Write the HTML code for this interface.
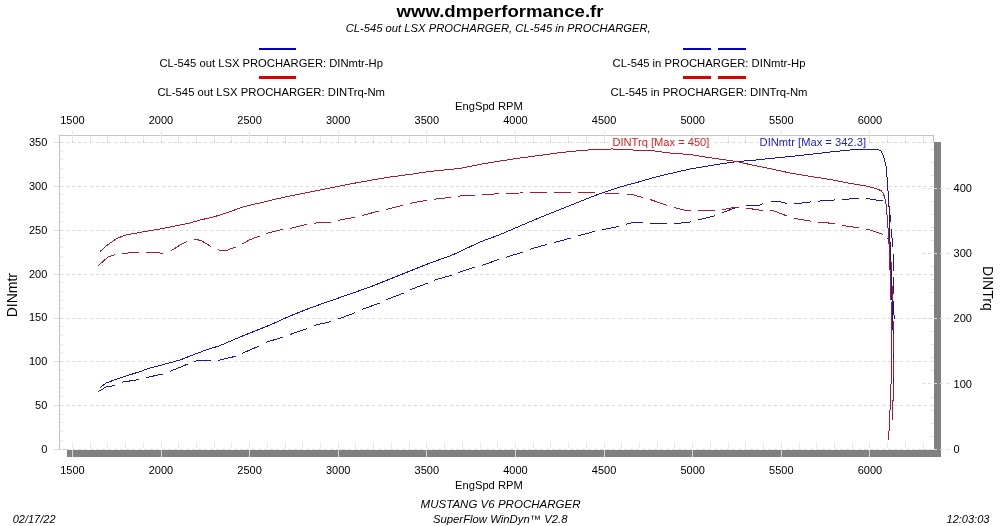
<!DOCTYPE html>
<html lang="fr"><head><meta charset="utf-8"><title>www.dmperformance.fr</title>
<style>
html,body{margin:0;padding:0;background:#fff;}
body{width:1000px;height:526px;overflow:hidden;}
svg{display:block;}
text{font-family:"Liberation Sans",Arial,Helvetica,sans-serif;fill:#000;}
.t{font-size:11px;}
.i{font-size:11px;font-style:italic;}
.ax{font-size:14px;}
.lbl{font-size:11.2px;}
</style></head><body>
<svg width="1000" height="526" viewBox="0 0 1000 526">
<rect x="0" y="0" width="1000" height="526" fill="#ffffff"/>
<text x="500" y="17" text-anchor="middle" textLength="207" lengthAdjust="spacingAndGlyphs" style="font-size:17px;font-weight:bold">www.dmperformance.fr</text>
<text class="i" x="498.2" y="31.8" text-anchor="middle" textLength="305" lengthAdjust="spacingAndGlyphs">CL-545 out LSX PROCHARGER, CL-545 in PROCHARGER,</text>
<g shape-rendering="crispEdges">
<rect x="259" y="48" width="37" height="2" fill="#0000cc"/>
<rect x="259" y="76" width="37" height="3" fill="#dd0000"/>
<rect x="683" y="48" width="28" height="2" fill="#0000cc"/><rect x="718" y="48" width="28" height="2" fill="#0000cc"/>
<rect x="683" y="76" width="28" height="3" fill="#dd0000"/><rect x="718" y="76" width="28" height="3" fill="#dd0000"/>
</g>
<text class="t" x="271.2" y="66.7" text-anchor="middle" textLength="223.5" lengthAdjust="spacingAndGlyphs">CL-545 out LSX PROCHARGER: DINmtr-Hp</text>
<text class="t" x="271.2" y="95.5" text-anchor="middle" textLength="227.5" lengthAdjust="spacingAndGlyphs">CL-545 out LSX PROCHARGER: DINTrq-Nm</text>
<text class="t" x="709" y="66.7" text-anchor="middle" textLength="193" lengthAdjust="spacingAndGlyphs">CL-545 in PROCHARGER: DINmtr-Hp</text>
<text class="t" x="709" y="95.5" text-anchor="middle" textLength="197" lengthAdjust="spacingAndGlyphs">CL-545 in PROCHARGER: DINTrq-Nm</text>
<text class="t" x="488.9" y="109.5" text-anchor="middle" textLength="67.6" lengthAdjust="spacingAndGlyphs">EngSpd RPM</text>
<text class="t" x="488.9" y="488.7" text-anchor="middle" textLength="67.6" lengthAdjust="spacingAndGlyphs">EngSpd RPM</text>
<text class="i" x="500.6" y="507.5" text-anchor="middle" textLength="160" lengthAdjust="spacingAndGlyphs">MUSTANG V6 PROCHARGER</text>
<text class="i" x="500.2" y="522.8" text-anchor="middle" textLength="134.5" lengthAdjust="spacingAndGlyphs">SuperFlow WinDyn™ V2.8</text>
<text class="i" x="12.7" y="522.7">02/17/22</text>
<text class="i" x="989.4" y="522.7" text-anchor="end">12:03:03</text>
<text class="ax" transform="translate(17.1 295.2) rotate(-90)" text-anchor="middle">DINmtr</text>
<text class="ax" transform="translate(983.4 288.4) rotate(90)" text-anchor="middle">DINTrq</text>
<text class="t" x="72.4" y="123.7" text-anchor="middle">1500</text>
<text class="t" x="72.4" y="474.1" text-anchor="middle">1500</text>
<text class="t" x="161.0" y="123.7" text-anchor="middle">2000</text>
<text class="t" x="161.0" y="474.1" text-anchor="middle">2000</text>
<text class="t" x="249.6" y="123.7" text-anchor="middle">2500</text>
<text class="t" x="249.6" y="474.1" text-anchor="middle">2500</text>
<text class="t" x="338.2" y="123.7" text-anchor="middle">3000</text>
<text class="t" x="338.2" y="474.1" text-anchor="middle">3000</text>
<text class="t" x="426.8" y="123.7" text-anchor="middle">3500</text>
<text class="t" x="426.8" y="474.1" text-anchor="middle">3500</text>
<text class="t" x="515.4" y="123.7" text-anchor="middle">4000</text>
<text class="t" x="515.4" y="474.1" text-anchor="middle">4000</text>
<text class="t" x="604.1" y="123.7" text-anchor="middle">4500</text>
<text class="t" x="604.1" y="474.1" text-anchor="middle">4500</text>
<text class="t" x="692.7" y="123.7" text-anchor="middle">5000</text>
<text class="t" x="692.7" y="474.1" text-anchor="middle">5000</text>
<text class="t" x="781.3" y="123.7" text-anchor="middle">5500</text>
<text class="t" x="781.3" y="474.1" text-anchor="middle">5500</text>
<text class="t" x="869.9" y="123.7" text-anchor="middle">6000</text>
<text class="t" x="869.9" y="474.1" text-anchor="middle">6000</text>
<text class="t" x="47.3" y="452.8" text-anchor="end">0</text>
<text class="t" x="47.3" y="409.0" text-anchor="end">50</text>
<text class="t" x="47.3" y="365.1" text-anchor="end">100</text>
<text class="t" x="47.3" y="321.3" text-anchor="end">150</text>
<text class="t" x="47.3" y="277.5" text-anchor="end">200</text>
<text class="t" x="47.3" y="233.6" text-anchor="end">250</text>
<text class="t" x="47.3" y="189.8" text-anchor="end">300</text>
<text class="t" x="47.3" y="146.0" text-anchor="end">350</text>
<text class="t" x="953.6" y="452.8">0</text>
<text class="t" x="953.6" y="387.6">100</text>
<text class="t" x="953.6" y="322.3">200</text>
<text class="t" x="953.6" y="257.1">300</text>
<text class="t" x="953.6" y="191.8">400</text>
<g shape-rendering="crispEdges" fill="none">
<rect x="934" y="142" width="7" height="315" fill="#808080"/>
<rect x="67" y="450" width="874" height="7" fill="#808080"/>
<path d="M59.5 449.5 V135.5 H934" stroke="#c4c4c4" stroke-width="1"/>
<path d="M933.5 135.5 V142" stroke="#c4c4c4" stroke-width="1"/>
<path d="M54 449.5 H67" stroke="#c4c4c4" stroke-width="1"/>
<path d="M54 449.5 H934" stroke="#dadada" stroke-width="1" stroke-dasharray="3 3"/>
<path d="M54 405.5 H934" stroke="#dadada" stroke-width="1" stroke-dasharray="3 3"/>
<path d="M54 361.5 H934" stroke="#dadada" stroke-width="1" stroke-dasharray="3 3"/>
<path d="M54 318.5 H934" stroke="#dadada" stroke-width="1" stroke-dasharray="3 3"/>
<path d="M54 274.5 H934" stroke="#dadada" stroke-width="1" stroke-dasharray="3 3"/>
<path d="M54 230.5 H934" stroke="#dadada" stroke-width="1" stroke-dasharray="3 3"/>
<path d="M54 186.5 H934" stroke="#dadada" stroke-width="1" stroke-dasharray="3 3"/>
<path d="M54 142.5 H934" stroke="#dadada" stroke-width="1" stroke-dasharray="3 3"/>
<path d="M54 449.5 H59 M54 405.5 H59 M54 361.5 H59 M54 318.5 H59 M54 274.5 H59 M54 230.5 H59 M54 186.5 H59 M54 142.5 H59" stroke="#dcdcdc" stroke-width="1"/>
<path d="M72.5 130 V142 M90.5 136 V142 M107.5 136 V142 M125.5 136 V142 M143.5 136 V142 M161.5 130 V142 M178.5 136 V142 M196.5 136 V142 M214.5 136 V142 M231.5 136 V142 M249.5 130 V142 M267.5 136 V142 M285.5 136 V142 M302.5 136 V142 M320.5 136 V142 M338.5 130 V142 M355.5 136 V142 M373.5 136 V142 M391.5 136 V142 M409.5 136 V142 M426.5 130 V142 M444.5 136 V142 M462.5 136 V142 M480.5 136 V142 M497.5 136 V142 M515.5 130 V142 M533.5 136 V142 M550.5 136 V142 M568.5 136 V142 M586.5 136 V142 M604.5 130 V142 M621.5 136 V142 M639.5 136 V142 M657.5 136 V142 M674.5 136 V142 M692.5 130 V142 M710.5 136 V142 M728.5 136 V142 M745.5 136 V142 M763.5 136 V142 M781.5 130 V142 M799.5 136 V142 M816.5 136 V142 M834.5 136 V142 M852.5 136 V142 M869.5 130 V142 M887.5 136 V142 M905.5 136 V142 M923.5 136 V142" stroke="#e9e9e9" stroke-width="1"/>
<path d="M72.5 141 V143 M90.5 141 V143 M107.5 141 V143 M125.5 141 V143 M143.5 141 V143 M161.5 141 V143 M178.5 141 V143 M196.5 141 V143 M214.5 141 V143 M231.5 141 V143 M249.5 141 V143 M267.5 141 V143 M285.5 141 V143 M302.5 141 V143 M320.5 141 V143 M338.5 141 V143 M355.5 141 V143 M373.5 141 V143 M391.5 141 V143 M409.5 141 V143 M426.5 141 V143 M444.5 141 V143 M462.5 141 V143 M480.5 141 V143 M497.5 141 V143 M515.5 141 V143 M533.5 141 V143 M550.5 141 V143 M568.5 141 V143 M586.5 141 V143 M604.5 141 V143 M621.5 141 V143 M639.5 141 V143 M657.5 141 V143 M674.5 141 V143 M692.5 141 V143 M710.5 141 V143 M728.5 141 V143 M745.5 141 V143 M763.5 141 V143 M781.5 141 V143 M799.5 141 V143 M816.5 141 V143 M834.5 141 V143 M852.5 141 V143 M869.5 141 V143 M887.5 141 V143 M905.5 141 V143 M923.5 141 V143" stroke="#cfcfcf" stroke-width="1"/>
<path d="M72.5 442 V448 M90.5 442 V448 M107.5 442 V448 M125.5 442 V448 M143.5 442 V448 M161.5 442 V448 M178.5 442 V448 M196.5 442 V448 M214.5 442 V448 M231.5 442 V448 M249.5 442 V448 M267.5 442 V448 M285.5 442 V448 M302.5 442 V448 M320.5 442 V448 M338.5 442 V448 M355.5 442 V448 M373.5 442 V448 M391.5 442 V448 M409.5 442 V448 M426.5 442 V448 M444.5 442 V448 M462.5 442 V448 M480.5 442 V448 M497.5 442 V448 M515.5 442 V448 M533.5 442 V448 M550.5 442 V448 M568.5 442 V448 M586.5 442 V448 M604.5 442 V448 M621.5 442 V448 M639.5 442 V448 M657.5 442 V448 M674.5 442 V448 M692.5 442 V448 M710.5 442 V448 M728.5 442 V448 M745.5 442 V448 M763.5 442 V448 M781.5 442 V448 M799.5 442 V448 M816.5 442 V448 M834.5 442 V448 M852.5 442 V448 M869.5 442 V448 M887.5 442 V448 M905.5 442 V448 M923.5 442 V448" stroke="#e9e9e9" stroke-width="1"/>
<path d="M72.5 450 V457 M161.5 450 V457 M249.5 450 V457 M338.5 450 V457 M426.5 450 V457 M515.5 450 V457 M604.5 450 V457 M692.5 450 V457 M781.5 450 V457 M869.5 450 V457" stroke="#d4d4d4" stroke-width="1"/>
<path d="M60 440.5 H63 M60 431.5 H63 M60 422.5 H63 M60 414.5 H63 M60 396.5 H63 M60 387.5 H63 M60 379.5 H63 M60 370.5 H63 M60 352.5 H63 M60 344.5 H63 M60 335.5 H63 M60 326.5 H63 M60 308.5 H63 M60 300.5 H63 M60 291.5 H63 M60 282.5 H63 M60 265.5 H63 M60 256.5 H63 M60 247.5 H63 M60 238.5 H63 M60 221.5 H63 M60 212.5 H63 M60 203.5 H63 M60 194.5 H63 M60 177.5 H63 M60 168.5 H63 M60 159.5 H63 M60 151.5 H63" stroke="#e8e8e8" stroke-width="1"/>
<path d="M931 436.5 H934 M931 423.5 H934 M931 410.5 H934 M931 397.5 H934 M931 370.5 H934 M931 357.5 H934 M931 344.5 H934 M931 331.5 H934 M931 305.5 H934 M931 292.5 H934 M931 279.5 H934 M931 266.5 H934 M931 240.5 H934 M931 227.5 H934 M931 214.5 H934 M931 201.5 H934 M931 175.5 H934 M931 162.5 H934 M931 149.5 H934" stroke="#e2e2e2" stroke-width="1"/>
<path d="M922 449.5 H949 M922 383.5 H949 M922 318.5 H949 M922 253.5 H949 M922 188.5 H949" stroke="#dcdcdc" stroke-width="1" stroke-dasharray="3 3"/>
<rect x="611" y="137" width="100" height="11" fill="#ffffff"/>
<rect x="758" y="137" width="110" height="11" fill="#ffffff"/>
<path d="M98.4 391.6 L106.0 387.0 L115.4 385.5 M122.4 382.3 L123.0 382.0 L139.4 379.5 M146.4 377.6 L147.0 377.4 L163.0 374.0 L163.4 373.9 M170.4 371.2 L171.0 371.0 L187.4 364.2 M194.4 361.6 L196.0 361.0 L204.0 360.0 L210.0 361.0 L211.4 360.9 M218.4 360.2 L220.0 360.0 L235.0 356.4 L235.4 356.2 M242.4 353.3 L243.0 353.0 L259.4 345.9 M266.4 342.3 L267.0 342.0 L280.0 338.0 L283.4 336.8 M290.4 334.4 L306.0 329.0 L307.4 328.4 M314.4 325.6 L316.0 325.0 L331.0 321.6 L331.4 321.5 M338.4 319.0 L340.0 318.4 L355.4 312.6 M362.4 309.3 L363.0 309.0 L379.0 303.4 L379.4 303.2 M386.4 299.7 L387.0 299.4 L403.0 293.4 L403.4 293.2 M410.4 289.7 L411.0 289.4 L427.0 283.4 L427.4 283.2 M434.4 280.3 L435.0 280.0 L451.0 275.4 L451.4 275.2 M458.4 272.6 L459.0 272.4 L475.0 267.0 L475.4 266.9 M482.4 265.1 L483.0 265.0 L499.0 259.4 L499.4 259.3 M506.4 257.2 L507.0 257.0 L523.0 252.0 L523.4 251.9 M530.4 249.2 L531.0 249.0 L547.0 244.4 L547.4 244.3 M554.4 242.6 L555.0 242.4 L571.0 238.0 L571.4 237.9 M578.4 235.8 L579.0 235.6 L595.4 231.2 M602.4 229.7 L604.0 229.4 L619.0 226.4 L619.4 226.3 M626.4 224.2 L627.0 224.0 L634.0 222.4 L643.0 222.0 L643.4 222.1 M650.4 223.2 L666.0 223.4 L667.4 223.4 M674.4 223.6 L676.0 223.6 L690.0 222.0 L691.4 221.6 M698.4 219.8 L700.0 219.4 L714.0 216.0 L715.4 215.4 M722.4 212.6 L724.0 212.0 L736.0 207.6 L739.4 207.1 M746.4 206.0 L760.0 205.0 L763.4 203.6 M770.4 201.0 L778.0 201.4 L787.4 203.5 M794.4 203.6 L798.0 203.6 L810.0 202.0 L811.4 201.9 M818.4 201.2 L820.0 201.0 L834.0 200.0 L835.4 199.9 M842.4 199.6 L856.0 198.4 L859.4 198.4 M866.4 198.5 L876.0 200.0 L883.4 200.4" stroke="#18189a" stroke-width="1"/>
<path d="M98.4 265.6 L108.0 257.0 L115.4 254.6 M122.4 253.4 L139.4 252.2 M146.4 252.3 L156.0 252.4 L163.4 253.5 M170.4 251.3 L180.0 245.0 L187.4 241.3 M194.4 239.2 L195.0 239.0 L202.0 241.0 L210.0 246.0 L211.4 246.6 M218.4 249.7 L220.0 250.4 L226.0 250.6 L235.4 247.2 M242.4 243.8 L250.0 239.6 L259.4 236.2 M266.4 233.6 L268.0 233.0 L280.0 230.0 L283.4 229.5 M290.4 228.3 L306.0 224.4 L307.4 224.2 M314.4 223.2 L316.0 223.0 L330.0 222.4 L331.4 222.1 M338.4 220.4 L340.0 220.0 L354.0 217.4 L355.4 217.1 M362.4 215.3 L370.0 213.4 L379.0 211.0 L379.4 210.9 M386.4 209.4 L388.0 209.0 L402.0 205.6 L403.4 205.2 M410.4 203.4 L412.0 203.0 L426.0 200.4 L427.4 200.2 M434.4 199.2 L436.0 199.0 L450.0 197.4 L451.4 197.2 M458.4 196.2 L460.0 196.0 L475.4 195.2 M482.4 194.8 L499.4 193.6 M506.4 193.4 L520.0 193.0 L523.4 192.9 M530.4 192.8 L540.0 192.6 L547.4 192.5 M554.4 192.5 L560.0 192.4 L571.4 192.2 M578.4 192.0 L580.0 192.0 L592.0 192.0 L595.4 192.3 M602.4 192.9 L604.0 193.0 L618.0 193.4 L619.4 193.5 M626.4 194.0 L632.0 194.4 L643.4 197.8 M650.4 199.6 L666.0 205.0 L667.4 205.4 M674.4 207.5 L676.0 208.0 L686.0 210.4 L691.4 210.5 M698.4 210.6 L700.0 210.6 L715.4 210.4 M722.4 209.5 L726.0 209.0 L736.0 207.0 L739.4 207.3 M746.4 208.1 L762.0 210.4 L763.4 210.5 M770.4 210.8 L774.0 211.0 L786.0 215.6 L787.4 216.0 M794.4 218.1 L796.0 218.6 L810.0 221.0 L811.4 221.2 M818.4 222.2 L820.0 222.4 L834.0 223.4 L835.4 223.8 M842.4 225.5 L856.0 227.4 L859.4 228.0 M866.4 229.3 L870.0 230.0 L883.4 234.4" stroke="#ac1a2c" stroke-width="1"/>
<path d="M888.8 205.5 L889.6 207.0 L890.4 222.0 L890.5 222.5 M891.2 229.5 L892.8 246.0 L892.8 246.5 M893.0 253.5 L893.6 270.0 L893.6 270.5 M893.7 277.5 L893.8 294.5 M893.9 301.5 L894.0 315.0 L894.0 318.5 M893.9 325.5 L893.8 342.5 M893.8 349.5 L893.8 350.0 L893.7 366.5 M893.6 373.5 L893.6 378.0 L893.3 390.5 M893.1 397.5 L893.0 400.0 L892.5 414.5" stroke="#18189a" stroke-width="1"/>
<path d="M887.6 238.0 L889.5 241.0 L890.6 250.0 L891.0 257.0 M891.2 262.0 L891.9 281.0 M892.0 286.0 L892.6 305.0 M892.7 310.0 L893.0 320.0 L893.2 329.0 M893.3 334.0 L893.6 350.0 L893.6 353.0 M893.6 358.0 L893.6 377.0 M893.5 382.0 L893.0 400.0 L893.0 401.0 M892.8 406.0 L892.4 420.0" stroke="#ac1a2c" stroke-width="1"/>
<polyline points="893.6,384 893.0,400 892.4,420" stroke="#ac1a2c" stroke-width="1"/>
<polyline points="100.0,387.6 106.0,383.0 120.0,378.0 140.0,371.6 150.0,368.0 164.0,364.4 180.0,360.0 190.0,356.0 206.0,350.0 220.0,345.6 240.0,337.0 260.0,329.0 270.0,325.0 290.0,316.0 310.0,308.0 330.0,301.0 350.0,294.0 370.0,287.0 390.0,279.0 410.0,271.0 430.0,263.0 450.0,256.0 460.0,251.5 480.0,242.0 500.0,234.6 520.0,226.0 540.0,217.5 560.0,209.5 580.0,201.5 600.0,193.6 620.0,187.0 640.0,181.6 650.0,178.6 670.0,173.6 690.0,169.0 710.0,165.6 737.0,161.5 750.0,160.6 770.0,158.5 790.0,156.5 810.0,154.4 830.0,152.0 850.0,150.0 866.0,149.4 878.0,149.4 881.0,151.0 883.5,156.0 886.0,166.0 887.3,180.0 888.2,193.3 889.0,206.6 889.5,220.0 890.2,249.0 891.0,270.0 892.0,300.0 892.0,330.0 891.3,345.0 891.3,375.0 890.5,400.0 889.5,420.0 888.8,436.0" stroke="#18189a" stroke-width="1"/>
<polyline points="100.0,251.6 106.0,246.0 116.0,239.0 124.0,235.4 140.0,232.4 160.0,229.0 180.0,225.0 190.0,223.0 200.0,220.0 212.0,217.4 228.0,212.4 240.0,208.0 248.0,205.6 260.0,203.0 270.0,200.4 290.0,196.0 310.0,192.0 330.0,188.0 340.0,186.0 350.0,184.0 370.0,180.4 390.0,177.0 410.0,174.4 430.0,171.4 450.0,169.4 460.0,168.4 480.0,164.4 500.0,161.0 520.0,158.0 540.0,155.4 560.0,152.6 580.0,150.6 600.0,149.2 612.0,149.0 626.0,149.4 640.0,150.6 650.0,150.4 670.0,153.0 690.0,154.6 710.0,157.8 737.0,161.5 750.0,164.6 770.0,168.6 790.0,173.0 810.0,176.4 830.0,179.4 850.0,183.4 866.0,186.0 876.0,188.6 881.0,190.6 883.5,194.0 884.6,197.3 886.0,204.0 886.9,213.3 887.7,224.0 888.6,236.0 889.3,249.0 890.0,270.0 891.0,300.0 891.3,340.0 891.3,375.0 890.5,400.0 889.5,420.0 888.6,440.0" stroke="#ac1a2c" stroke-width="1"/>
</g>
<text class="lbl" x="612.4" y="146.2" textLength="97" lengthAdjust="spacingAndGlyphs" style="fill:#dc2020">DINTrq [Max = 450]</text>
<text class="lbl" x="759.6" y="146.2" textLength="106.4" lengthAdjust="spacingAndGlyphs" style="fill:#1818d8">DINmtr [Max = 342.3]</text>
</svg>
</body></html>
